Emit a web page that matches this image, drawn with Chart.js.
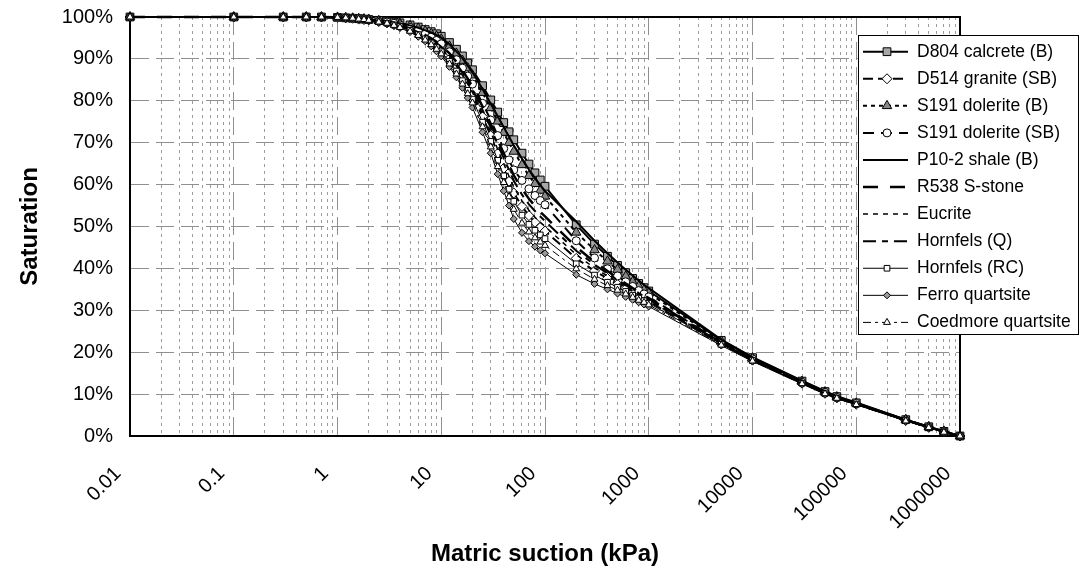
<!DOCTYPE html>
<html>
<head>
<meta charset="utf-8">
<script src="https://cdn.jsdelivr.net/npm/chart.js@4.4.1/dist/chart.umd.min.js"></script>
<style>
    html, body { margin: 0; padding: 0; background: #fff; }
    #wrap { position: relative; width: 1081px; height: 569px; }
</style>
</head>
<body>
<div id="wrap"><canvas id="swccChart" width="1081" height="569"></canvas></div>
<script>
// matric suction (kPa), shared by every soil curve
var suction = [0.01, 0.1, 0.3, 0.5, 0.7, 1, 1.2, 1.4, 1.6, 1.8,
    2, 2.5, 3, 3.5, 4, 5, 6, 7, 8, 9,
    10, 12, 14, 16, 18, 20, 25, 30, 35, 40,
    45, 50, 60, 70, 80, 90, 100, 200, 300, 400,
    500, 600, 700, 800, 900, 1000, 5000, 10000, 30000, 50000,
    65000, 100000, 300000, 500000, 700000, 1000000];

// saturation (%) per material
var d804Calcrete = [100, 100, 100, 100, 100, 99.9, 99.8, 99.7, 99.6, 99.5,
    99.4, 99.2, 99.0, 98.8, 98.6, 98.1, 97.6, 97.0, 96.5, 96.0,
    95.4, 93.9, 92.3, 90.7, 89.0, 87.4, 83.6, 80.2, 77.3, 74.8,
    72.6, 70.7, 67.5, 64.9, 62.8, 61.1, 59.6, 50.4, 45.8, 42.9,
    40.7, 39.0, 37.6, 36.4, 35.4, 34.6, 22.8, 18.7, 13.1, 10.6,
    9.4, 7.9, 3.9, 2.2, 1.1, 0];
var d514Granite = [100, 100, 100, 100, 100, 99.9, 99.8, 99.7, 99.5, 99.4,
    99.3, 98.9, 98.6, 98.2, 97.8, 97.0, 96.1, 95.1, 94.2, 93.2,
    92.2, 90.0, 87.8, 85.6, 83.4, 81.4, 76.2, 71.7, 67.4, 63.9,
    60.8, 58.0, 54.8, 52.6, 51.0, 49.8, 48.9, 42.4, 39.4, 37.6,
    36.2, 35.1, 34.2, 33.4, 32.7, 32.1, 22.0, 18.1, 12.6, 10.2,
    9.1, 7.6, 3.7, 2.1, 1.0, 0];
var s191DoleriteB = [100, 100, 100, 100, 100, 99.9, 99.8, 99.7, 99.6, 99.5,
    99.4, 99.1, 98.9, 98.7, 98.4, 97.9, 97.3, 96.6, 96.0, 95.4,
    94.7, 93.0, 91.3, 89.6, 87.8, 86.1, 81.9, 78.3, 75.1, 72.4,
    70.0, 67.9, 64.7, 62.1, 60.2, 58.6, 57.2, 48.6, 44.4, 41.7,
    39.7, 38.1, 36.8, 35.7, 34.8, 34.1, 22.6, 18.6, 13.0, 10.5,
    9.3, 7.8, 3.9, 2.2, 1.1, 0];
var s191DoleriteSB = [100, 100, 100, 100, 100, 99.9, 99.8, 99.7, 99.6, 99.5,
    99.3, 99.0, 98.8, 98.5, 98.1, 97.5, 96.7, 95.9, 95.2, 94.4,
    93.6, 91.7, 89.8, 87.8, 85.9, 84.0, 79.4, 75.4, 71.7, 68.6,
    65.9, 63.5, 61.0, 59.0, 57.4, 56.2, 55.2, 46.6, 42.5, 39.9,
    38.2, 36.8, 35.7, 34.7, 33.9, 33.2, 22.3, 18.4, 12.8, 10.4,
    9.2, 7.8, 3.8, 2.1, 1.0, 0];
var p102Shale = [100, 100, 100, 100, 100, 99.9, 99.8, 99.7, 99.6, 99.5,
    99.4, 99.2, 99.0, 98.7, 98.5, 98.0, 97.4, 96.8, 96.3, 95.7,
    95.1, 93.5, 91.8, 90.2, 88.4, 86.8, 82.8, 79.3, 76.3, 73.7,
    71.4, 69.4, 66.2, 63.6, 61.6, 59.9, 58.5, 51.2, 46.6, 43.6,
    41.4, 39.7, 38.3, 37.1, 36.1, 35.3, 23.0, 18.8, 13.2, 10.7,
    9.5, 8.0, 3.9, 2.2, 1.1, 0];
var r538Sstone = [100, 100, 100, 100, 100, 99.9, 99.8, 99.7, 99.6, 99.5,
    99.3, 99.0, 98.7, 98.4, 98.1, 97.3, 96.6, 95.7, 94.9, 94.1,
    93.2, 91.3, 89.3, 87.3, 85.3, 83.4, 78.6, 74.5, 70.6, 67.5,
    64.7, 62.2, 59.0, 56.6, 54.9, 53.5, 52.4, 45.1, 41.5, 39.4,
    37.7, 36.4, 35.3, 34.4, 33.6, 32.9, 22.3, 18.3, 12.8, 10.3,
    9.2, 7.7, 3.8, 2.1, 1.0, 0];
var eucrite = [100, 100, 100, 100, 100, 99.9, 99.8, 99.7, 99.5, 99.4,
    99.3, 99.0, 98.6, 98.3, 97.9, 97.1, 96.2, 95.3, 94.4, 93.5,
    92.5, 90.4, 88.3, 86.1, 84.0, 82.0, 76.9, 72.6, 68.4, 65.0,
    62.0, 59.4, 56.1, 53.9, 52.2, 51.0, 50.0, 43.3, 40.1, 38.2,
    36.7, 35.5, 34.5, 33.7, 33.0, 32.4, 22.1, 18.2, 12.7, 10.2,
    9.1, 7.7, 3.7, 2.1, 1.0, 0];
var hornfelsQ = [100, 100, 100, 100, 100, 99.9, 99.8, 99.7, 99.5, 99.5,
    99.3, 99.0, 98.7, 98.3, 98.0, 97.2, 96.4, 95.5, 94.7, 93.8,
    92.9, 90.9, 88.8, 86.8, 84.7, 82.7, 77.8, 73.6, 69.6, 66.3,
    63.5, 60.9, 57.6, 55.3, 53.7, 52.4, 51.3, 44.2, 40.9, 38.8,
    37.2, 36.0, 35.0, 34.1, 33.3, 32.7, 22.2, 18.2, 12.7, 10.3,
    9.1, 7.7, 3.7, 2.1, 1.0, 0];
var hornfelsRC = [100, 100, 100, 100, 100, 99.9, 99.8, 99.7, 99.5, 99.4,
    99.2, 98.9, 98.5, 98.1, 97.7, 96.8, 95.8, 94.8, 93.8, 92.7,
    91.7, 89.4, 87.1, 84.8, 82.5, 80.4, 74.9, 70.3, 65.8, 62.1,
    58.9, 56.0, 52.7, 50.5, 49.1, 48.0, 47.1, 41.1, 38.4, 36.7,
    35.5, 34.5, 33.6, 32.9, 32.3, 31.7, 21.9, 18.0, 12.6, 10.1,
    9.0, 7.6, 3.7, 2.0, 0.9, 0];
var ferroQuartsite = [100, 100, 100, 100, 100, 99.9, 99.8, 99.7, 99.5, 99.4,
    99.2, 98.8, 98.4, 97.9, 97.4, 96.4, 95.3, 94.2, 93.0, 91.8,
    90.6, 88.1, 85.6, 83.1, 80.7, 78.4, 72.5, 67.5, 62.5, 58.5,
    55.0, 51.8, 48.5, 46.5, 45.2, 44.3, 43.6, 38.5, 36.3, 35.0,
    34.0, 33.2, 32.5, 31.9, 31.4, 30.9, 21.6, 17.8, 12.4, 10.0,
    8.9, 7.5, 3.6, 2.0, 0.9, 0];
var coedmoreQuartsite = [100, 100, 100, 100, 100, 99.9, 99.8, 99.7, 99.5, 99.4,
    99.2, 98.8, 98.5, 98.0, 97.5, 96.6, 95.6, 94.5, 93.4, 92.3,
    91.2, 88.8, 86.4, 84.0, 81.7, 79.5, 73.8, 69.0, 64.3, 60.5,
    57.1, 54.1, 50.8, 48.7, 47.3, 46.3, 45.5, 39.9, 37.4, 35.9,
    34.8, 33.9, 33.1, 32.4, 31.9, 31.3, 21.7, 17.9, 12.5, 10.1,
    9.0, 7.5, 3.6, 2.0, 0.9, 0];

var seriesNames = ['D804 calcrete (B)', 'D514 granite (SB)', 'S191 dolerite (B)', 'S191 dolerite (SB)',
    'P10-2 shale (B)', 'R538 S-stone', 'Eucrite', 'Hornfels (Q)', 'Hornfels (RC)',
    'Ferro quartsite', 'Coedmore quartsite'];
var seriesValues = [d804Calcrete, d514Granite, s191DoleriteB, s191DoleriteSB, p102Shale,
    r538Sstone, eucrite, hornfelsQ, hornfelsRC, ferroQuartsite, coedmoreQuartsite];

var xTickLabels = ['0.01', '0.1', '1', '10', '100', '1000', '10000', '100000', '1000000'];

// line / marker look for each series, same order as the names
var seriesStyles = [
    { dash: [], width: 2, point: 'rect', radius: 5.5, fill: '#a6a6a6' },
    { dash: [10, 5], width: 2, point: 'rectRot', radius: 5, fill: '#ffffff' },
    { dash: [4, 4], width: 2, point: 'triangle', radius: 5.5, fill: '#888888' },
    { dash: [11, 7], width: 2, point: 'circle', radius: 4, fill: '#ffffff' },
    { dash: [], width: 2, point: false, radius: 0, fill: '#000' },
    { dash: [15, 12], width: 2.5, point: false, radius: 0, fill: '#000' },
    { dash: [5, 5], width: 1.5, point: false, radius: 0, fill: '#000' },
    { dash: [13, 6, 6, 6], width: 2, point: false, radius: 0, fill: '#000' },
    { dash: [], width: 1, point: 'rect', radius: 4, fill: '#ffffff' },
    { dash: [], width: 1, point: 'rectRot', radius: 3.5, fill: '#999999' },
    { dash: [8, 4, 3, 4], width: 1, point: 'triangle', radius: 4, fill: '#ffffff' }
];

Chart.defaults.font.family = '"Liberation Sans", Arial, sans-serif';
Chart.defaults.color = '#000';

function isDecade(v) {
    var l = Math.log10(v);
    return Math.abs(l - Math.round(l)) < 1e-9;
}

var datasets = seriesNames.map(function (name, i) {
    var st = seriesStyles[i];
    return {
        label: name,
        data: suction.map(function (s, j) { return { x: s, y: seriesValues[i][j] }; }),
        showLine: true,
        borderColor: '#000',
        borderWidth: st.width,
        borderDash: st.dash,
        pointStyle: st.point || 'circle',
        pointRadius: st.radius,
        pointBackgroundColor: st.fill,
        pointBorderColor: '#000',
        pointBorderWidth: 1,
        clip: false,
        order: -i
    };
});

// box round the plot area (top and right sides too)
var framePlugin = {
    id: 'plotFrame',
    beforeDatasetsDraw: function (chart) {
        var a = chart.chartArea, ctx = chart.ctx;
        ctx.save();
        ctx.strokeStyle = '#000';
        ctx.lineWidth = 2;
        ctx.strokeRect(a.left, a.top, a.right - a.left, a.bottom - a.top);
        ctx.restore();
    }
};

// Excel style legend box sitting over the right of the plot
var boxLegendPlugin = {
    id: 'boxLegend',
    afterDraw: function (chart) {
        var ctx = chart.ctx;
        var left = 858, top = 35, w = 220, h = 299, rowH = 27.07;
        ctx.save();
        ctx.fillStyle = '#fff';
        ctx.fillRect(left, top, w, h);
        ctx.strokeStyle = '#000';
        ctx.lineWidth = 1;
        ctx.strokeRect(left + 0.5, top + 0.5, w, h);
        chart.data.datasets.forEach(function (ds, i) {
            var y = top + 16.7 + i * rowH;
            ctx.save();
            ctx.strokeStyle = '#000';
            ctx.lineWidth = ds.borderWidth;
            ctx.setLineDash(ds.borderDash);
            ctx.beginPath();
            ctx.moveTo(left + 5, y);
            ctx.lineTo(left + 50, y);
            ctx.stroke();
            ctx.setLineDash([]);
            if (ds.pointRadius > 0) {
                ctx.fillStyle = ds.pointBackgroundColor;
                ctx.strokeStyle = '#000';
                ctx.lineWidth = 1;
                Chart.helpers.drawPoint(ctx, {
                    pointStyle: ds.pointStyle, radius: ds.pointRadius, rotation: 0, borderWidth: 1
                }, left + 29, y);
            }
            ctx.restore();
            ctx.fillStyle = '#000';
            ctx.font = '17.5px "Liberation Sans", Arial, sans-serif';
            ctx.textBaseline = 'middle';
            ctx.textAlign = 'left';
            ctx.fillText(ds.label, left + 59, y);
        });
        ctx.restore();
    }
};

new Chart(document.getElementById('swccChart'), {
    type: 'scatter',
    data: { datasets: datasets },
    options: {
        responsive: false,
        devicePixelRatio: 1,
        animation: false,
        layout: { padding: { top: 17, right: 121, left: 0, bottom: 0 } },
        plugins: {
            legend: { display: false },
            tooltip: { enabled: false }
        },
        scales: {
            x: {
                type: 'logarithmic',
                min: 0.01,
                max: 1000000,
                afterBuildTicks: function (scale) {
                    var ticks = [];
                    for (var e = -2; e <= 6; e++) {
                        for (var m = 1; m <= 9; m++) {
                            if (e === 6 && m > 1) break;
                            ticks.push({ value: m * Math.pow(10, e) });
                        }
                    }
                    scale.ticks = ticks;
                },
                afterFit: function (scale) { scale.height = 133; },
                ticks: {
                    autoSkip: false,
                    minRotation: 45,
                    maxRotation: 45,
                    padding: 26,
                    labelOffset: -12,
                    font: { size: 20 },
                    callback: function (value) {
                        if (!isDecade(value)) return '';
                        return xTickLabels[Math.round(Math.log10(value)) + 2];
                    }
                },
                grid: {
                    drawTicks: false,
                    lineWidth: 1,
                    color: function (ctx) {
                        return ctx.tick && isDecade(ctx.tick.value) ? '#8f8f8f' : '#9c9c9c';
                    }
                },
                border: {
                    color: '#000',
                    width: 2,
                    dash: function (ctx) {
                        if (!ctx.tick) return [];
                        return isDecade(ctx.tick.value) ? [18, 7] : [3, 4];
                    }
                },
                title: {
                    display: true,
                    text: 'Matric suction (kPa)',
                    font: { size: 24, weight: 'bold' },
                    padding: { top: 0, bottom: 0 }
                }
            },
            y: {
                min: 0,
                max: 100,
                afterFit: function (scale) { scale.width = 130; },
                ticks: {
                    stepSize: 10,
                    padding: 0,
                    font: { size: 20 },
                    callback: function (v) { return v + '%'; }
                },
                grid: {
                    drawTicks: true,
                    tickLength: 17,
                    tickColor: 'rgba(0,0,0,0)',
                    color: '#8f8f8f',
                    lineWidth: 1
                },
                border: {
                    color: '#000',
                    width: 2,
                    dash: function (ctx) { return ctx.tick ? [18, 7] : []; }
                },
                title: {
                    display: true,
                    text: 'Saturation',
                    font: { size: 24, weight: 'bold' },
                    padding: { top: 16, bottom: 0 }
                }
            }
        }
    },
    plugins: [framePlugin, boxLegendPlugin]
});
</script>
</body>
</html>
